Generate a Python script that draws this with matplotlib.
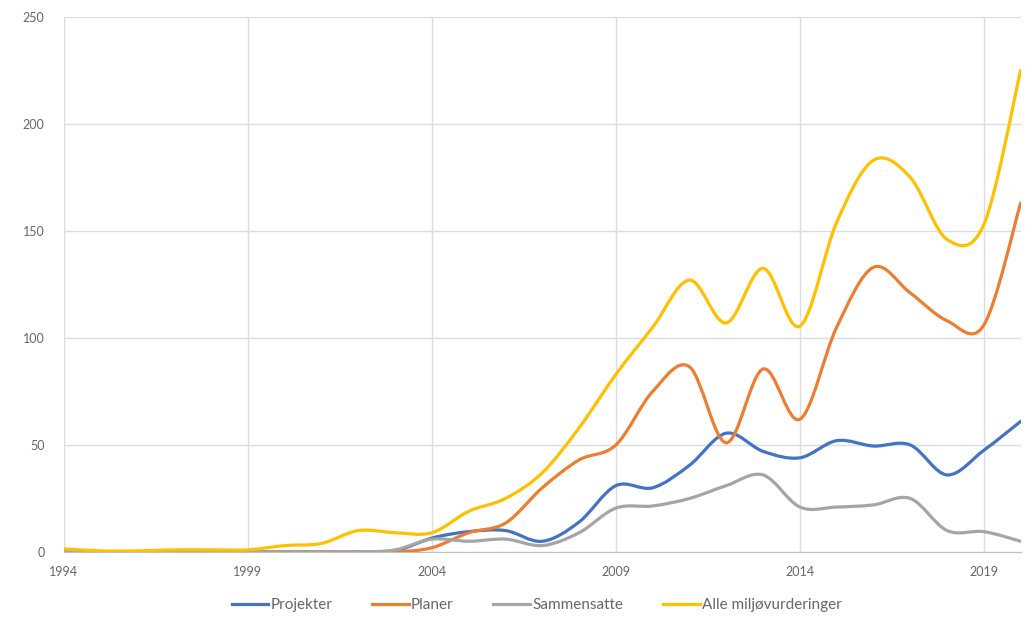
import numpy as np
import matplotlib.pyplot as plt
from matplotlib.path import Path
from matplotlib.patches import PathPatch
from matplotlib.lines import Line2D

plt.rcParams['font.family'] = ['Lato', 'DejaVu Sans']

years = list(range(1994, 2021))

projekter = [0, 0, 0, 0, 0, 0, 0, 0, 0, 0.5, 6.5, 9.5, 10, 5, 14, 31, 30, 40.5,
             55.5, 47, 44, 52, 49.5, 50, 36, 47.5, 61]
planer = [0, 0, 0, 0, 0, 0, 0, 0, 0, 0, 2, 9, 13.5, 30, 43, 50, 75, 86.5,
          51, 85.5, 62, 105, 133, 121, 108, 106, 163]
sammensatte = [0, 0, 0, 0, 0, 0, 0, 0, 0, 1, 6, 5, 6, 3, 9, 20.5, 21.5, 25,
               31, 36, 21, 21, 22, 25, 10, 9.5, 5]
alle = [1.5, 0.5, 0.5, 1, 1, 1, 3, 4, 10, 9, 9, 19, 25, 37, 58, 83, 105, 127,
        107, 132.5, 105.5, 154, 183, 175, 146, 153, 225]

labels = ["Projekter", "Planer", "Sammensatte", "Alle miljøvurderinger"]
colors = ["#4472C4", "#ED7D31", "#A5A5A5", "#FFC000"]
series = [projekter, planer, sammensatte, alle]


def smooth_path(x, y):
    # Excel-style smoothed line: Catmull-Rom segments as cubic Bezier curves
    x = np.asarray(x, float)
    y = np.asarray(y, float)
    p = np.column_stack([x, y])
    n = len(p)
    verts = [p[0]]
    codes = [Path.MOVETO]
    for i in range(n - 1):
        p0 = p[i - 1] if i > 0 else p[i]
        p3 = p[i + 2] if i + 2 < n else p[i + 1]
        c1 = p[i] + (p[i + 1] - p0) / 6
        c2 = p[i + 1] - (p3 - p[i]) / 6
        verts += [c1, c2, p[i + 1]]
        codes += [Path.CURVE4] * 3
    return Path(verts, codes)


fig = plt.figure(figsize=(10.32, 6.23), dpi=100)
ax = fig.add_axes([0.062, 0.114, 0.927, 0.859])

for vals, c in zip(series, colors):
    patch = PathPatch(smooth_path(years, vals), facecolor='none', edgecolor=c,
                      lw=2.3, capstyle='round', joinstyle='round', zorder=3)
    ax.add_patch(patch)

ax.set_xlim(1994, 2020)
ax.set_ylim(0, 250)
ax.set_xticks(range(1994, 2020, 5))
ax.set_yticks(range(0, 251, 50))
ax.grid(True, color='#DDDDDD', lw=1)
ax.set_axisbelow(True)
for s in ['top', 'right', 'left']:
    ax.spines[s].set_visible(False)
ax.spines['bottom'].set_color('#BFBFBF')
ax.tick_params(length=0, colors='#666666', labelsize=9)
ax.tick_params(axis='y', pad=14)
ax.tick_params(axis='x', pad=10)

handles = [Line2D([], [], color=c, lw=2.3) for c in colors]
fig.legend(handles, labels, loc='lower center', ncol=4, frameon=False,
           bbox_to_anchor=(0.52, -0.005), fontsize=11, labelcolor='#666666',
           handlelength=2.4, handletextpad=0.15, columnspacing=2.6)

fig.savefig('out.png', dpi=100)
